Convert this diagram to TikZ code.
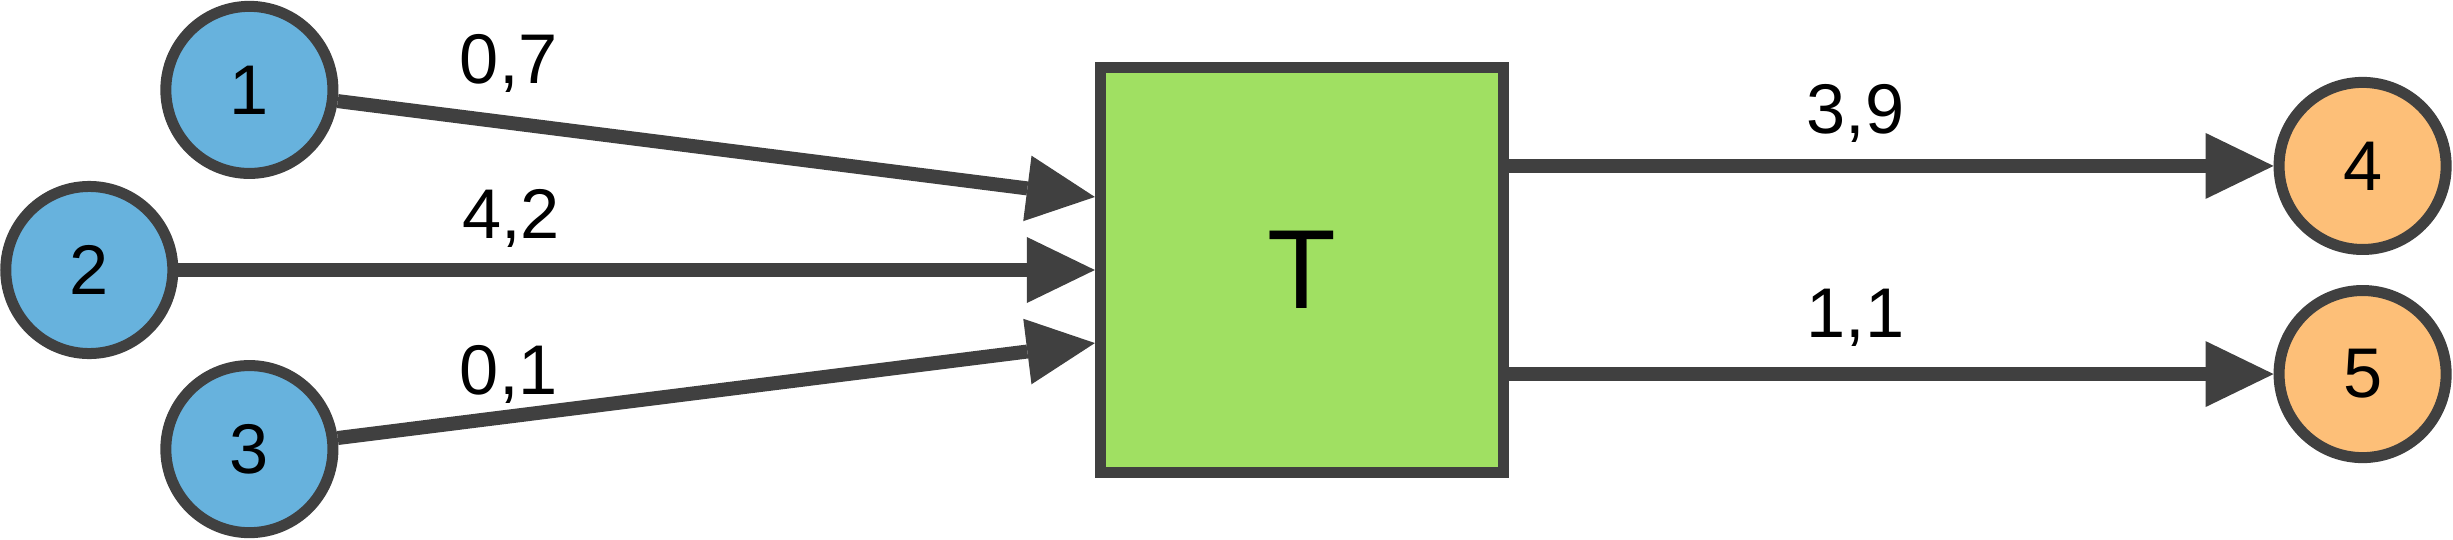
\documentclass[tikz,border=0pt]{standalone}
\usepackage{fontspec}
\setmainfont{Liberation Sans}
\usetikzlibrary{positioning,arrows.meta}

\definecolor{srcblue}{HTML}{67B2DD}
\definecolor{procgreen}{HTML}{A0E062}
\definecolor{sinkorange}{HTML}{FDBF78}
\definecolor{edgegray}{HTML}{404040}

\begin{document}
\begin{tikzpicture}[x=0.01cm, y=-0.01cm,
    src/.style={circle, draw=edgegray, fill=srcblue, line width=0.11cm,
        minimum size=1.67cm, inner sep=0pt, font=\fontsize{20}{24}\selectfont},
    sink/.style={src, fill=sinkorange},
    proc/.style={rectangle, draw=edgegray, fill=procgreen, line width=0.11cm,
        minimum width=4.03cm, minimum height=4.04cm, font=\fontsize{32}{38}\selectfont},
    flow/.style={color=edgegray, line width=0.14cm,
        -{Triangle[length=0.68cm,width=0.66cm,line width=0pt]}},
    wt/.style={anchor=base, inner sep=0pt, text=black, font=\fontsize{20}{24}\selectfont}]

    \useasboundingbox (0,0) rectangle (2453,539);

    \node (T) [proc] at (1302,270) {T};
    \node (2) [src, left=9.16cm of T] {2};
    \node (1) [src, left=7.56cm of T, yshift=1.8cm] {1};
    \node (3) [src, left=7.56cm of T, yshift=-1.79cm] {3};
    \node (4) [sink, right=7.64cm of T, yshift=1.04cm] {4};
    \node (5) [sink, right=7.64cm of T, yshift=-1.04cm] {5};

    \draw[flow] (1) -- node[wt, pos=0.226, yshift=0.39cm] {0,7} ([yshift=0.73cm]T.west);
    \draw[flow] (2) -- node[wt, pos=0.363, yshift=0.31cm] {4,2} (T.west);
    \draw[flow] (3) -- node[wt, pos=0.226, yshift=0.225cm] {0,1} ([yshift=-0.73cm]T.west);
    \draw[flow] ([yshift=1.04cm]T.east) -- node[wt, pos=0.453, yshift=0.32cm] {3,9} (4);
    \draw[flow] ([yshift=-1.04cm]T.east) -- node[wt, pos=0.453, yshift=0.37cm] {1,1} (5);

\end{tikzpicture}
\end{document}
